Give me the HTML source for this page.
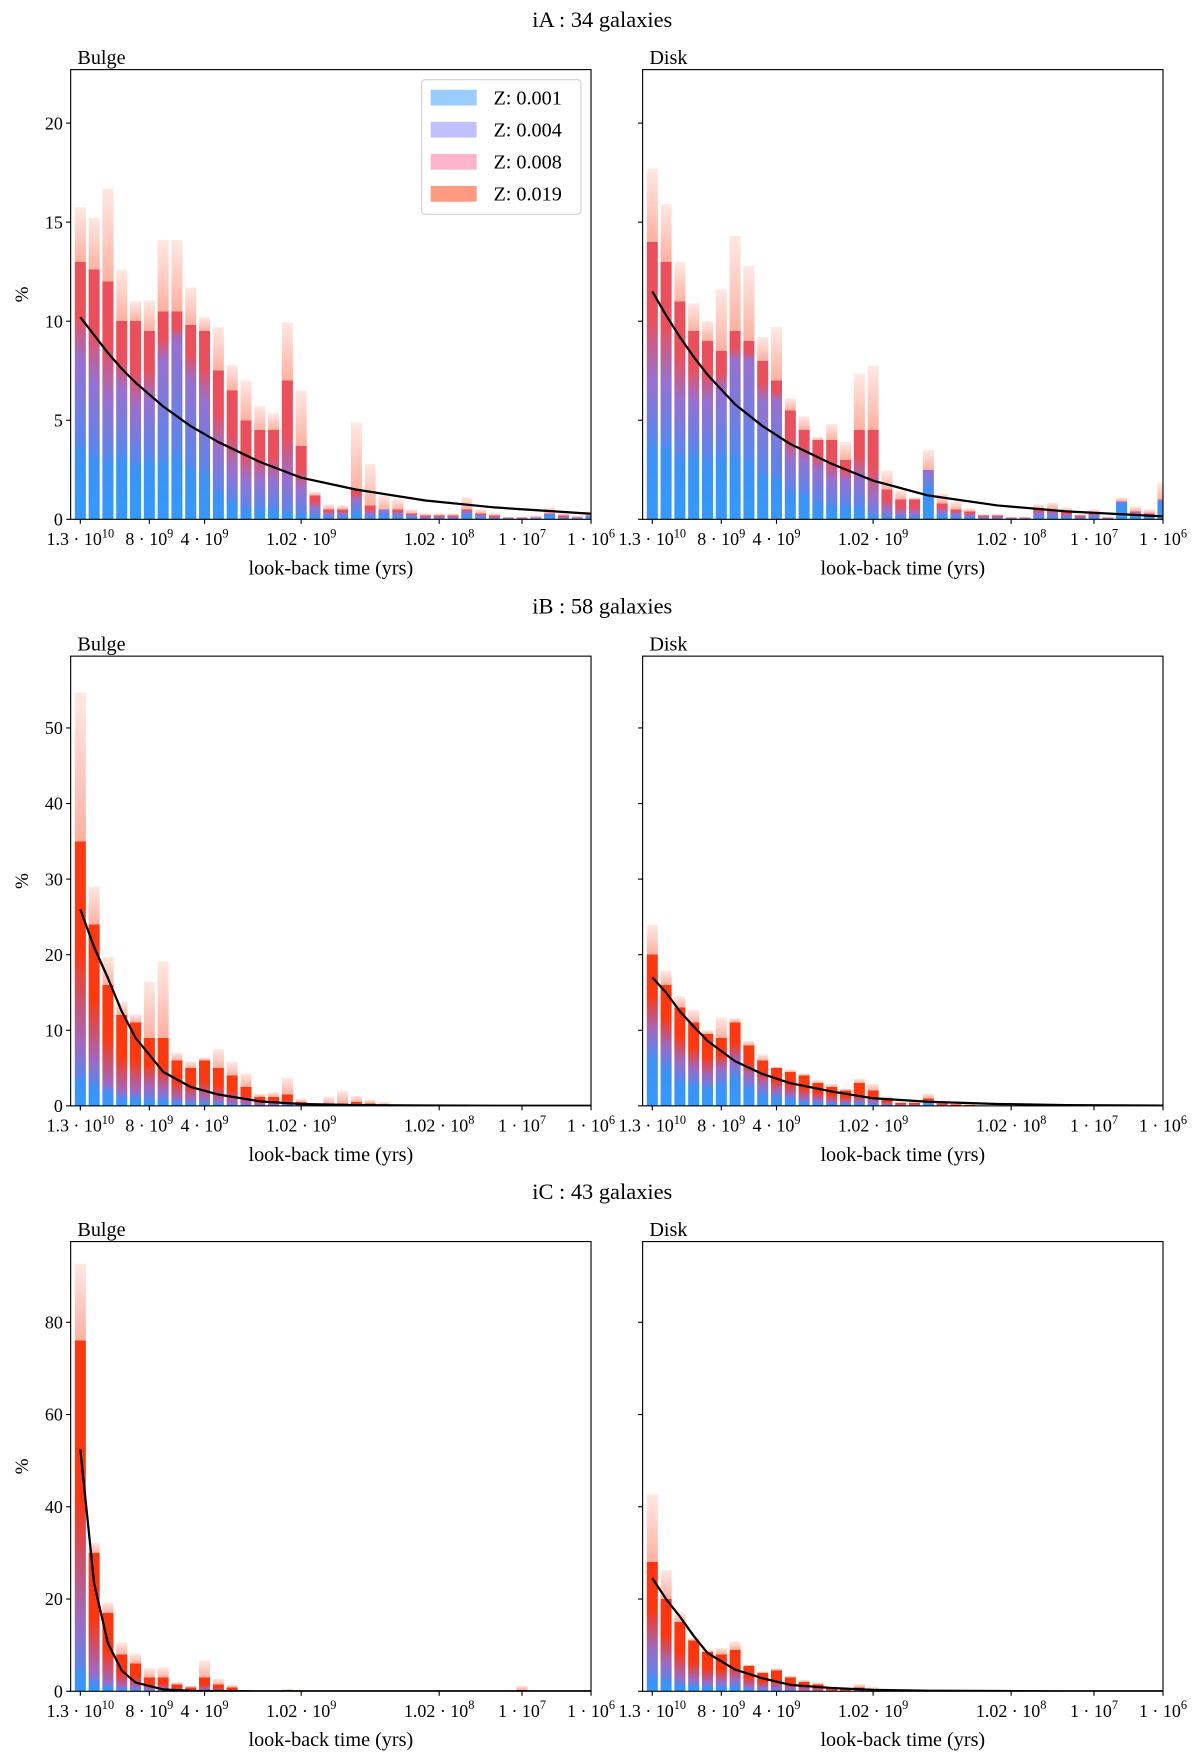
<!DOCTYPE html>
<html><head><meta charset="utf-8"><style>
html,body{margin:0;padding:0;background:#fff;}
svg{display:block;font-family:"Liberation Serif","DejaVu Serif",serif;}
</style></head><body>
<svg id="fig" width="1200" height="1762" viewBox="0 0 1070 1571" xmlns="http://www.w3.org/2000/svg"></svg>
<script>
// ---- data ----
const tickIdx = [0, 5, 9, 16, 26, 32, 37];
const tickMant = ["1.3", "8", "4", "1.02", "1.02", "1", "1"];
const tickExp = ["10", "9", "9", "9", "8", "7", "6"];
const groupTitles = ["iA : 34 galaxies", "iB : 58 galaxies", "iC : 43 galaxies"];
const yMaxRows = [22.7, 59.5, 97.5];
const yTicksRows = [[0,5,10,15,20],[0,10,20,30,40,50],[0,20,40,60,80]];
const legendLabels = ["Z: 0.001","Z: 0.004","Z: 0.008","Z: 0.019"];
const legendColors = ["#99ccff","#c0bfff","#ffb3cc","#ff9980"];
const curveIdx = [0,1,2,3,4,6,8,10,13,16,20,25,30,37];

// A bulge
const aBulgeTot = [15.75,15.2,16.7,12.6,11.0,11.05,14.1,14.1,11.7,10.2,9.7,7.8,7.0,5.7,5.35,9.95,6.5,1.4,0.75,0.7,4.9,2.8,1.2,1.0,0.5,0.3,0.3,0.3,1.1,0.5,0.3,0.1,0.1,0.2,0.6,0.3,0.2,0.4];
const aBulgeSolid = [13,12.6,12,10,10,9.5,10.5,10.5,9.8,9.5,7.5,6.5,5,4.5,4.5,7,3.7,1.2,0.5,0.5,1.5,0.7,0.5,0.5,0.3,0.2,0.2,0.2,0.5,0.3,0.2,0.1,0.1,0.1,0.3,0.2,0.1,0.2];
const aBulgePurple = [8,7,6,6.5,5.5,6,8,9,7,6,3.5,2.5,2,2,2,2,1.5,0.6,0.3,0.3,1,0.3,0.5,0.3,0.2,0.1,0.1,0.1,0.4,0.2,0.1,0.05,0.05,0.1,0.3,0.1,0.1,0.2];
const aBulgeBlue = [4,3.5,3.2,3.5,3.0,3.2,3.2,3.5,2.8,2.5,1.5,1.0,0.6,0.6,0.6,0.4,0.3,0.2,0.1,0.1,0.4,0.1,0.2,0.1,0.1,0.05,0.05,0.05,0.2,0.1,0.05,0,0,0.05,0.2,0.05,0.05,0.1];
const aBulgeCurve = [10.2,9.3,8.4,7.6,6.9,5.7,4.7,3.9,2.9,2.1,1.5,0.95,0.6,0.28];
// A disk
const aDiskTot = [17.7,15.9,13.0,10.9,10.0,11.6,14.3,12.8,9.2,9.7,6.1,5.2,4.15,4.8,3.9,7.35,7.75,2.45,1.45,1.1,3.5,1.3,0.9,0.55,0.25,0.25,0.1,0.1,0.75,0.85,0.6,0.25,0.5,0.1,1.1,0.65,0.5,1.85];
const aDiskSolid = [14,13,11,9.5,9,8.5,9.5,9,8,7,5.5,4.5,4,4,3,4.5,4.5,1.5,1,1,1.8,0.8,0.5,0.4,0.2,0.2,0.1,0.1,0.5,0.5,0.4,0.2,0.3,0.1,0.6,0.4,0.3,0.9];
const aDiskPurple = [7,7,6,6,6,6.5,8,8,6,6,3,3,2.5,2,2,2,1,0.5,0.3,0.3,2.5,0.4,0.3,0.2,0.1,0.1,0.05,0.05,0.3,0.3,0.2,0.1,0.2,0.05,0.9,0.3,0.2,1.0];
const aDiskBlue = [4.1,4,3.4,3.5,3.2,3.5,3.5,3.3,2.5,2.3,1.5,1.4,0.9,0.7,0.7,0.7,0.2,0.1,0.1,0.1,1.7,0.2,0.1,0.1,0.05,0.05,0,0,0.1,0.1,0.1,0.05,0.1,0,0.8,0.2,0.1,0.8];
const aDiskCurve = [11.5,10.3,9.2,8.2,7.3,5.8,4.7,3.8,2.8,1.95,1.2,0.7,0.4,0.15];
// B bulge
const bBulgeTot = [54.7,29,19.7,13.8,12.1,16.4,19.1,7.0,5.9,6.4,7.5,5.8,4.3,1.6,1.8,3.7,0.9,0.35,1.2,2.0,1.3,0.8,0.5,0.2,0,0,0,0,0,0,0,0,0,0,0,0,0,0];
const bBulgeSolid = [35,24,16,12,11,9,9,6,5,6,5,4,2.5,1.2,1.2,1.5,0.5,0.2,0.3,0.3,0.5,0.3,0.2,0.1,0,0,0,0,0,0,0,0,0,0,0,0,0,0];
const bBulgePurple = [8,6,3,2,2,2.5,2,1,1,1,0.7,0.5,0.4,0.2,0.2,0.3,0.1,0.05,0.1,0.1,0.1,0.05,0,0,0,0,0,0,0,0,0,0,0,0,0,0,0,0];
const bBulgeBlue = [4,3,2,1,1,0.8,0.8,0.5,0.3,0.3,0.3,0.2,0.1,0.05,0.05,0.1,0,0,0,0,0,0,0,0,0,0,0,0,0,0,0,0,0,0,0,0,0,0];
const bBulgeCurve = [26,21,16.9,12.5,9,4.5,2.5,1.5,0.6,0.25,0.1,0.05,0.02,0.01];
// B disk
const bDiskTot = [24,17.9,14.5,12.7,10.0,11.7,11.6,8.6,6.8,5.2,4.8,4.3,3.4,2.9,2.3,3.6,2.9,1.2,0.5,0.6,1.6,0.5,0.3,0.2,0.1,0.05,0,0,0,0,0,0,0,0,0,0,0,0];
const bDiskSolid = [20,16,13,11,9.5,9,11,8,6,5,4.5,4,3,2.5,2,3,2,1,0.4,0.4,1,0.3,0.2,0.1,0.05,0,0,0,0,0,0,0,0,0,0,0,0,0];
const bDiskPurple = [10,8,6,5,4,5,6,4,3,2,1.5,1,0.8,0.6,0.5,0.6,0.6,0.2,0.1,0.1,0.6,0.1,0,0,0,0,0,0,0,0,0,0,0,0,0,0,0,0];
const bDiskBlue = [7,5.5,3.5,3,2.5,3,4,2.5,1.5,1.2,1,0.5,0.4,0.3,0.2,0.3,0.2,0.1,0,0,0.4,0,0,0,0,0,0,0,0,0,0,0,0,0,0,0,0,0];
const bDiskCurve = [17,15,12.5,10.5,8.6,5.9,4.2,3.0,1.9,1.0,0.55,0.25,0.1,0.03];
// C bulge
const cBulgeTot = [92.7,32.2,19.2,10.6,8.1,5.0,5.2,2.0,1.2,6.7,2.7,1.4,0,0,0,0.5,0,0,0,0,0,0,0,0,0,0,0,0,0,0,0,0,1.2,0,0,0,0,0];
const cBulgeSolid = [76,30,17,8,6,3,3,1.5,0.8,3,1.5,0.8,0,0,0,0.2,0,0,0,0,0,0,0,0,0,0,0,0,0,0,0,0,0.3,0,0,0,0,0];
const cBulgePurple = [15,4,2,1,1,0.5,0.5,0.2,0.1,0.3,0.1,0.1,0,0,0,0,0,0,0,0,0,0,0,0,0,0,0,0,0,0,0,0,0,0,0,0,0,0];
const cBulgeBlue = [5,2,1,0.5,0.3,0.2,0.2,0.1,0,0.1,0,0,0,0,0,0,0,0,0,0,0,0,0,0,0,0,0,0,0,0,0,0,0,0,0,0,0,0];
const cBulgeCurve = [52.5,23.4,10.4,4.5,1.9,0.4,0.1,0.05,0,0,0,0,0,0];
// C disk
const cDiskTot = [42.7,26.3,17.1,11.5,9.0,9.4,10.8,5.8,4.3,5.0,3.4,2.5,1.9,0.9,0.6,1.6,0.9,0.4,0.2,0.2,0.1,0.3,0,0,0,0,0,0,0,0,0,0,0,0,0,0,0,0];
const cDiskSolid = [28,20,15,11,8.5,8,9,5.5,4,4.5,3,2,1.5,0.6,0.4,0.8,0.5,0.2,0.1,0.1,0,0.1,0,0,0,0,0,0,0,0,0,0,0,0,0,0,0,0];
const cDiskPurple = [9,6,3,2.5,2,2,2.5,1,0.8,0.8,0.5,0.3,0.2,0.1,0.1,0.2,0.1,0,0,0,0,0,0,0,0,0,0,0,0,0,0,0,0,0,0,0,0,0];
const cDiskBlue = [3.5,2.5,1.5,1.2,1,1,1.2,0.5,0.3,0.3,0.2,0.1,0.1,0,0,0.05,0,0,0,0,0,0,0,0,0,0,0,0,0,0,0,0,0,0,0,0,0,0];
const cDiskCurve = [24.5,20,16.2,12,8.3,4.7,2.8,1.4,0.7,0.3,0.12,0.05,0.02,0];

// ---- layout ----
const NS = "http://www.w3.org/2000/svg";
const svg = document.getElementById('fig');
const defs = document.createElementNS(NS, 'defs');
svg.appendChild(defs);
const X0 = [63, 573], AW = 464;
const ROWTOP = [62, 585, 1107], AH = 401;
const XMIN = -0.7, XMAX = 37;
const redColors = ["#ec4f5c", "#ff3810", "#ff3510"];
const purpleColors = ["#9870d0", "#a068c0", "#9c6ac4"];

function mk(tag, attrs, parent) {
  const e = document.createElementNS(NS, tag);
  for (const k in attrs) e.setAttribute(k, attrs[k]);
  (parent || svg).appendChild(e);
  return e;
}
function txt(s, attrs, parent) { const e = mk('text', attrs, parent); e.textContent = s; return e; }

const panels = [
  [aBulgeTot,aBulgeSolid,aBulgePurple,aBulgeBlue,aBulgeCurve],
  [aDiskTot,aDiskSolid,aDiskPurple,aDiskBlue,aDiskCurve],
  [bBulgeTot,bBulgeSolid,bBulgePurple,bBulgeBlue,bBulgeCurve],
  [bDiskTot,bDiskSolid,bDiskPurple,bDiskBlue,bDiskCurve],
  [cBulgeTot,cBulgeSolid,cBulgePurple,cBulgeBlue,cBulgeCurve],
  [cDiskTot,cDiskSolid,cDiskPurple,cDiskBlue,cDiskCurve]
];
let gid = 0;

for (let r = 0; r < 3; r++) {
  const t = txt(groupTitles[r], {x: 537, y: ROWTOP[r] - 38, 'font-size': 20, 'text-anchor': 'middle'});
  
  
  for (let c = 0; c < 2; c++) {
    const [tot, solid, purple, blue, curve] = panels[r * 2 + c];
    const ax0 = X0[c], ay0 = ROWTOP[r], ymax = yMaxRows[r];
    const xs = i => ax0 + (i - XMIN) / (XMAX - XMIN) * AW;
    const ys = v => ay0 + AH - Math.min(v, ymax) / ymax * AH;
    const g = mk('g', {});
    
    
    const cpth = mk('clipPath', {id: 'clip' + r + c}, defs);
    mk('rect', {x: ax0, y: ay0, width: AW, height: AH}, cpth);
    const bars = mk('g', {'clip-path': 'url(#clip' + r + c + ')'}, g);
    const bw = 0.8 * AW / (XMAX - XMIN);
    for (let i = 0; i < tot.length; i++) {
      if (tot[i] <= 0) continue;
      const T = tot[i];
      const b = Math.min(blue[i], T), p = Math.min(Math.max(b, purple[i]), T), s = Math.min(Math.max(p, solid[i]), T);
      const id = 'gr' + (gid++);
      const lg = mk('linearGradient', {id: id, x1: 0, y1: 1, x2: 0, y2: 0}, defs);
      const stops = [
        [0, '#3399ff', 1],
        [b / T * 0.85, '#3d92f5', 1],
        [b / T, '#5a86ec', 1],
        [p / T, purpleColors[r], 1],
        [(p + (s - p) * 0.45) / T, redColors[r], 1],
        [s / T, redColors[r], 1],
        [s / T, '#ffb0a0', 1],
        [(s + (T - s) * 0.6) / T, '#ffd3ca', 1],
        [1, '#ffe8e3', 1]
      ];
      stops.forEach(([o, col]) => mk('stop', {offset: Math.max(0, Math.min(1, o)), 'stop-color': col}, lg));
      const rc = mk('rect', {x: xs(i) - bw / 2, y: ys(T), width: bw, height: ys(0) - ys(T), fill: 'url(#' + id + ')'}, bars);
      
      
    }
    // curve
    let d = '';
    curveIdx.forEach((ix, k) => { d += (k ? 'L' : 'M') + xs(ix).toFixed(2) + ',' + ys(curve[k]).toFixed(2); });
    const cp = mk('path', {d: d, fill: 'none', stroke: '#000', 'stroke-width': 2, 'stroke-linejoin': 'round', 'clip-path': 'url(#clip' + r + c + ')'}, g);
    
    
    // frame
    const fr = mk('rect', {x: ax0, y: ay0, width: AW, height: AH, fill: 'none', stroke: '#000', 'stroke-width': 1}, g);
    
    
    // y ticks
    yTicksRows[r].forEach(v => {
      mk('line', {x1: ax0 - 4, x2: ax0, y1: ys(v), y2: ys(v), stroke: '#000'}, g);
      if (c === 0) {
        const yl = txt(String(v), {x: ax0 - 7, y: ys(v) + 5.5, 'font-size': 16, 'text-anchor': 'end'}, g);
        
        
      }
    });
    // x ticks
    tickIdx.forEach((ix, k) => {
      const tx = xs(ix);
      mk('line', {x1: tx, x2: tx, y1: ay0 + AH, y2: ay0 + AH + 4, stroke: '#000'}, g);
      const xl = txt('', {x: tx, y: ay0 + AH + 23, 'font-size': 16, 'text-anchor': 'middle'}, g);
      
      
      const t1 = mk('tspan', {}, xl); t1.textContent = tickMant[k] + ' · 10';
      const t2 = mk('tspan', {dy: -7, 'font-size': 11}, xl); t2.textContent = tickExp[k];
    });
    const xt = txt('look-back time (yrs)', {x: ax0 + AW / 2, y: ay0 + AH + 49, 'font-size': 18, 'text-anchor': 'middle'}, g);
    
    
    const st = txt(c ? 'Disk' : 'Bulge', {x: ax0 + 6, y: ay0 - 5, 'font-size': 18}, g);
    
    
    if (c === 0) {
      const yt = txt('%', {x: 0, y: 0, 'font-size': 17, 'text-anchor': 'middle', transform: 'translate(25,' + (ay0 + AH / 2) + ') rotate(-90)'}, g);
      
      
    }
    if (r === 0 && c === 0) {
      const lgd = mk('g', {}, g);
      
      
      mk('rect', {x: 376, y: 71, width: 142, height: 120, rx: 3, fill: '#fff', stroke: '#d0d0d0'}, lgd);
      legendLabels.forEach((lab, k) => {
        const ey = 87 + k * 28.6;
        const le = mk('g', {}, lgd);
        
        
        mk('rect', {x: 384, y: ey - 7, width: 41, height: 14, fill: legendColors[k]}, le);
        txt(lab, {x: 440, y: ey + 6, 'font-size': 18}, le);
      });
    }
  }
}
</script>
</body></html>
